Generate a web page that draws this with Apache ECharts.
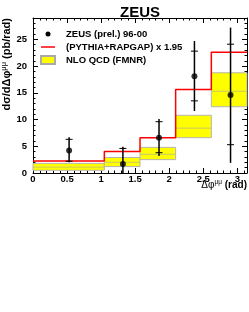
<!DOCTYPE html>
<html><head><meta charset="utf-8">
<script src="https://cdn.jsdelivr.net/npm/echarts@6/dist/echarts.min.js"></script>
<style>html,body{margin:0;padding:0;background:#fff}#c{width:249px;height:312px}</style>
</head><body><div id="c"></div><script>
// bin edges (rad)
const binEdges = [0, 1.047, 1.571, 2.094, 2.618, 3.1416];
// (PYTHIA+RAPGAP) x 1.95
const mcValues = [2.25, 4.0, 6.6, 15.6, 22.6];
// NLO QCD (FMNR) band
const nloLow = [0.5, 1.2, 2.5, 6.6, 12.4];
const nloHigh = [1.8, 2.9, 4.8, 10.8, 18.75];
const nloCentral = [1.1, 2.0, 3.5, 8.4, 15.3];
// ZEUS (prel.) 96-00
const dataX = [0.53, 1.32, 1.85, 2.37, 2.90];
const dataY = [4.2, 1.7, 6.6, 18.1, 14.6];
const statLow = [2.2, null, 3.8, 13.5, 5.3];
const statHigh = [6.3, 4.6, 9.6, 22.8, 24.1];
const totLow = [2.0, 0, 3.2, 11.6, 1.9];
const totHigh = [6.7, 4.9, 10.1, 24.7, 27.2];
// tick labels
const xTickLabels = [0, 0.5, 1, 1.5, 2, 2.5, 3];
const yTickLabels = [0, 5, 10, 15, 20, 25];

const FONT = '"Liberation Sans", Arial, Helvetica, sans-serif';
const chart = echarts.init(document.getElementById('c'), null, {renderer: 'canvas'});

const bandData = mcValues.map((_, i) => [binEdges[i], binEdges[i + 1], nloLow[i], nloHigh[i], nloCentral[i]]);
const mcData = [];
mcValues.forEach((v, i) => { mcData.push([binEdges[i], v]); mcData.push([binEdges[i + 1], v]); });
const errData = dataX.map((x, i) => [x, dataY[i], totLow[i], totHigh[i], statLow[i], statHigh[i]]);
const ptData = dataX.map((x, i) => [x, dataY[i]]);

const near = (v, arr) => arr.some(t => Math.abs(t - v) < 1e-6);

const axisCommon = {
  type: 'value',
  axisLine: {show: true, onZero: false, lineStyle: {color: '#000', width: 1}},
  axisTick: {show: true, inside: true, length: 5, lineStyle: {color: '#000', width: 1}},
  minorTick: {show: true, splitNumber: 5, length: 2.5, lineStyle: {color: '#000', width: 1}},
  splitLine: {show: false},
  minorSplitLine: {show: false}
};

chart.setOption({
  animation: false,
  backgroundColor: '#fff',
  title: {
    text: 'ZEUS', left: 135, top: 0, textAlign: 'center',
    textStyle: {fontFamily: FONT, fontSize: 15, fontWeight: 'bold', color: '#000'}
  },
  grid: {left: 33, right: 2, top: 18, bottom: 139},
  legend: {
    orient: 'vertical', left: 40, top: 29, padding: 0,
    itemWidth: 14, itemHeight: 8, itemGap: 3,
    textStyle: {fontFamily: FONT, fontSize: 9.5, fontWeight: 'bold', color: '#000', padding: [0, 0, 0, 6]},
    data: [
      {name: 'ZEUS (prel.) 96-00', icon: 'path://M0,0 L0,0 M14,8 L14,8 M4.5,4 A2.5,2.5 0 1 0 9.5,4 A2.5,2.5 0 1 0 4.5,4 Z'},
      {name: '(PYTHIA+RAPGAP) x 1.95', icon: 'path://M0,3.25 H14 V4.75 H0 Z M0,0 L0,0 M0,8 L0,8'},
      {name: 'NLO QCD (FMNR)', icon: 'rect'}
    ]
  },
  xAxis: [
    Object.assign({}, axisCommon, {
      min: 0, max: 3.1416, interval: 0.5, position: 'bottom',
      axisLabel: {
        show: true, margin: 1, showMaxLabel: false,
        fontFamily: FONT, fontSize: 9.5, fontWeight: 'bold', color: '#000',
        formatter: v => near(v, xTickLabels) ? String(v) : ''
      }
    }),
    Object.assign({}, axisCommon, {
      min: 0, max: 3.1416, interval: 0.5, position: 'top',
      axisLabel: {show: false}
    })
  ],
  yAxis: [
    Object.assign({}, axisCommon, {
      min: 0, max: 29, interval: 5, position: 'left',
      axisLabel: {
        show: true, margin: 6, showMaxLabel: false,
        fontFamily: FONT, fontSize: 9.5, fontWeight: 'bold', color: '#000',
        formatter: v => near(v, yTickLabels) ? String(v) : ''
      }
    }),
    Object.assign({}, axisCommon, {
      min: 0, max: 29, interval: 5, position: 'right',
      axisLabel: {show: false}
    })
  ],
  graphic: [
    {
      type: 'text', x: 6, y: 18, rotation: Math.PI / 2,
      style: {
        text: '{a|dσ/dΔφ}{s|μμ}{a| (pb/rad)}',
        align: 'right', verticalAlign: 'middle',
        rich: {
          a: {fontFamily: FONT, fontSize: 11, fontWeight: 'bold', fill: '#000', verticalAlign: 'bottom'},
          s: {fontFamily: FONT, fontSize: 7.5, fill: '#000', verticalAlign: 'top', padding: [0, 0, 5, 0]}
        }
      }
    },
    {
      type: 'text', x: 247, y: 184.5,
      style: {
        text: '{g|Δφ}{s|μμ}{a| (rad)}',
        align: 'right', verticalAlign: 'middle',
        rich: {
          g: {fontFamily: FONT, fontSize: 10, fill: '#000', verticalAlign: 'bottom'},
          a: {fontFamily: FONT, fontSize: 10, fontWeight: 'bold', fill: '#000', verticalAlign: 'bottom'},
          s: {fontFamily: FONT, fontSize: 6.5, fill: '#000', verticalAlign: 'top', padding: [0, 0, 5, 0]}
        }
      }
    }
  ],
  series: [
    {
      name: 'NLO QCD (FMNR)', type: 'custom', z: 1,
      itemStyle: {color: '#ffff00', borderColor: '#aaaaaa', borderWidth: 1},
      encode: {x: [0, 1], y: [2, 3]},
      data: bandData,
      renderItem: function (params, api) {
        const lo = api.value(0), hi = api.value(1);
        const a = api.coord([lo, api.value(3)]);
        const b = api.coord([hi, api.value(2)]);
        const c = api.coord([lo, api.value(4)]);
        return {
          type: 'group',
          children: [
            {type: 'rect', shape: {x: a[0], y: a[1], width: b[0] - a[0], height: b[1] - a[1]},
             style: {fill: '#ffff00', stroke: '#b4b4b4', lineWidth: 1}},
            {type: 'line', shape: {x1: a[0], y1: c[1], x2: b[0], y2: c[1]},
             style: {stroke: '#c8c864', lineWidth: 1}}
          ]
        };
      }
    },
    {
      name: '(PYTHIA+RAPGAP) x 1.95', type: 'line', z: 2,
      data: mcData, showSymbol: false, symbol: 'none',
      lineStyle: {color: '#ff0000', width: 1.5},
      itemStyle: {color: '#ff0000'}
    },
    {
      name: 'ZEUS (prel.) 96-00', type: 'custom', z: 3,
      itemStyle: {color: '#000'},
      encode: {x: 0, y: [2, 3]},
      data: errData,
      renderItem: function (params, api) {
        const x = api.value(0);
        const top = api.coord([x, api.value(3)]);
        const bot = api.coord([x, api.value(2)]);
        const children = [
          {type: 'line', shape: {x1: top[0], y1: top[1], x2: bot[0], y2: bot[1]},
           style: {stroke: '#000', lineWidth: 1.5}}
        ];
        [4, 5].forEach(k => {
          const v = api.value(k);
          if (v === null || v === undefined || isNaN(v)) return;
          const p = api.coord([x, v]);
          children.push({type: 'line', shape: {x1: p[0] - 3.5, y1: p[1], x2: p[0] + 3.5, y2: p[1]},
                         style: {stroke: '#000', lineWidth: 1}});
        });
        return {type: 'group', children: children};
      }
    },
    {
      name: 'ZEUS (prel.) 96-00', type: 'scatter', z: 4,
      data: ptData, symbol: 'circle', symbolSize: 6,
      itemStyle: {color: '#000'}
    }
  ]
});
</script></body></html>
